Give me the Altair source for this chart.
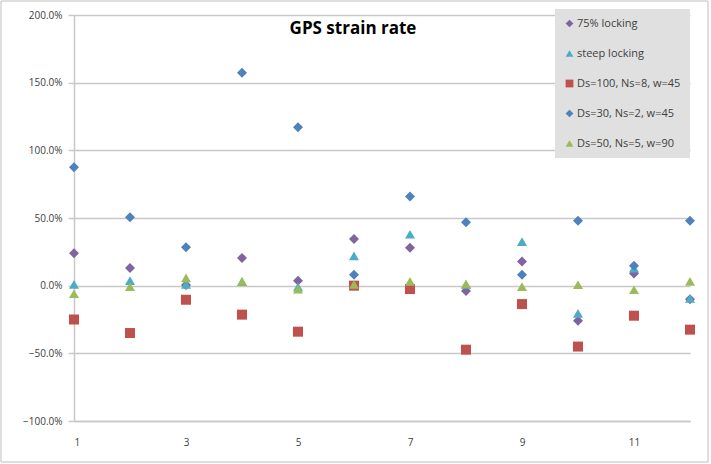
import altair as alt
import pandas as pd

series = ["75% locking", "steep locking", "Ds=100, Ns=8, w=45", "Ds=30, Ns=2, w=45", "Ds=50, Ns=5, w=90"]
colors = ["#8064A2", "#4BACC6", "#C0504D", "#4F81BD", "#9BBB59"]
shapes = ["diamond", "triangle-up", "square", "diamond", "triangle-up"]
x_vals = [1, 2, 3, 4, 5, 6, 7, 8, 9, 10, 11, 12]

locking75 = [24.0, 13.0, 0.5, 20.5, 3.7, 34.5, 28.0, -4.0, 17.8, -26.0, 9.0, -10.0]
steep = [1.0, 3.7, 1.0, 3.0, -1.0, 22.0, 38.0, 1.0, 32.5, -20.5, 13.0, -9.5]
ds100 = [-25.0, -35.0, -10.4, -21.4, -34.0, 0.0, -2.5, -47.3, -13.6, -45.0, -22.2, -32.5]
ds30 = [87.5, 50.5, 28.3, 157.3, 117.0, 8.0, 65.8, 46.8, 8.1, 48.0, 14.8, 48.0]
ds50 = [-6.0, -0.7, 5.7, 3.2, -2.5, 1.0, 3.2, 1.2, -0.7, 0.7, -3.0, 3.2]

all_vals = [locking75, steep, ds100, ds30, ds50]
rows = []
for name, vals in zip(series, all_vals):
    for x, v in zip(x_vals, vals):
        rows.append({"x": x, "value": v / 100.0, "series": name})
df = pd.DataFrame(rows)

W, H = 616, 406
FONT = "Open Sans"

points = alt.Chart(df).mark_point(filled=True, opacity=1, size=100).encode(
    x=alt.X("x:Q", scale=alt.Scale(domain=[1, 12], nice=False, zero=False),
            axis=alt.Axis(values=[1, 3, 5, 7, 9, 11], title=None, grid=False, ticks=False,
                          labelPadding=16, domainColor="#c8c8c8", domainWidth=1.5)),
    y=alt.Y("value:Q", scale=alt.Scale(domain=[-1, 2], nice=False),
            axis=alt.Axis(values=[-1, -0.5, 0, 0.5, 1, 1.5, 2], format=".1%", title=None,
                          grid=True, gridColor="#c8c8c8", gridWidth=1.5,
                          tickColor="#c8c8c8", tickSize=6, tickWidth=1.5, labelPadding=6,
                          domainColor="#c8c8c8", domainWidth=1.5)),
    color=alt.Color("series:N", sort=series,
                    scale=alt.Scale(domain=series, range=colors),
                    legend=alt.Legend(title=None, orient="none", legendX=481, legendY=-6,
                                      fillColor="#e0e0e0", padding=9, rowPadding=18,
                                      labelFontSize=11, labelColor="#404040", labelFont=FONT,
                                      symbolSize=60, labelOffset=2, symbolOffset=0,
                                      labelLimit=200)),
    shape=alt.Shape("series:N", sort=series,
                    scale=alt.Scale(domain=series, range=shapes)),
)

title = alt.Chart(pd.DataFrame({"t": ["GPS strain rate"]})).mark_text(
    font=FONT, fontSize=17, fontWeight="bold", color="#000000"
).encode(x=alt.value(279), y=alt.value(14), text="t:N")

frame = alt.Chart(pd.DataFrame({"a": [0]})).mark_rect(
    fill=None, stroke="#bfbfbf", strokeWidth=1
).encode(x=alt.value(-73), x2=alt.value(W + 18), y=alt.value(-14), y2=alt.value(H + 41))

chart = alt.layer(frame, points, title).properties(
    width=W, height=H,
    padding={"left": 74, "top": 15, "right": 21, "bottom": 43},
    autosize=alt.AutoSizeParams(type="none"),
).configure_view(stroke=None).configure_axis(
    labelFont=FONT, labelFontSize=10, labelColor="#404040"
)

chart.save("out.html", embed_options={"renderer": "svg", "actions": False})
